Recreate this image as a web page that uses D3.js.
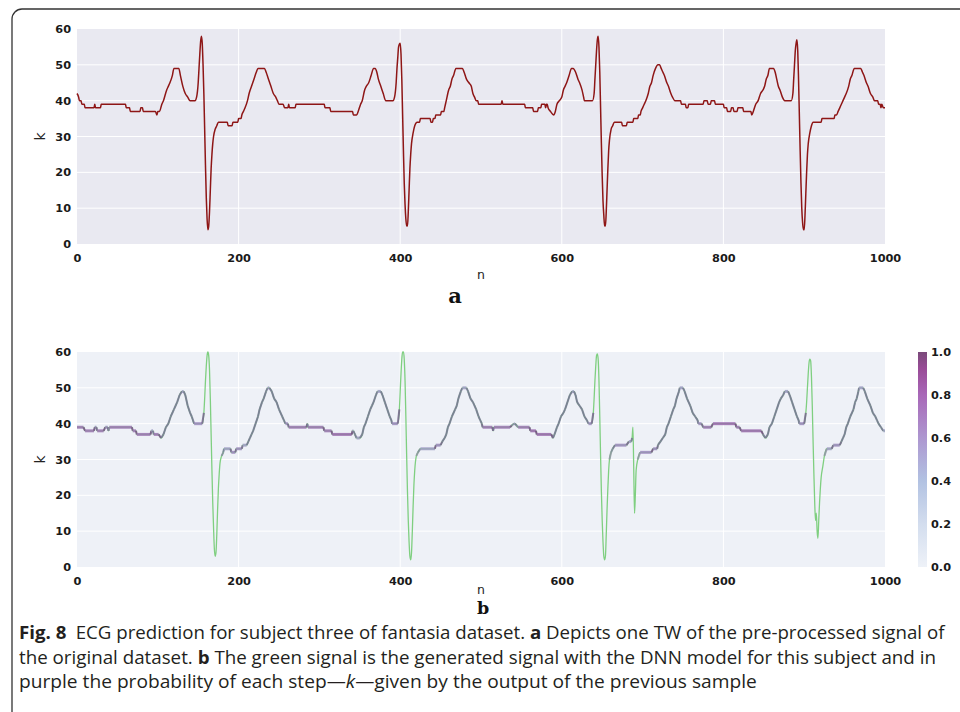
<!DOCTYPE html>
<html><head><meta charset="utf-8">
<script src="https://cdn.jsdelivr.net/npm/d3@7"></script>
<style>body{margin:0;background:#fff}svg{display:block}</style>
</head><body>
<svg id="c" width="960" height="712"></svg>
<script>
// ---------- data ----------
const xTicks = [0, 200, 400, 600, 800, 1000];
const yTicks = [0, 10, 20, 30, 40, 50, 60];
const cbTicks = [0.0, 0.2, 0.4, 0.6, 0.8, 1.0];
const panelLabels = ["a", "b"];
const axisLabelX = "n";
const axisLabelY = "k";

// panel a: original pre-processed signal [n, k]
const sigA = [[0,42],[2,41],[3,40],[5,40],[6,39],[9,39],[10,38],[21,38],[22,39],[23,38],[29,38],[30,39],[60,39],[61,38],[65,38],[66,37],[78,37],[79,38],[81,38],[82,37],[97,37],[99,36],[100,37],[102,37],[105,39],[107,40],[111,43],[113,44],[115,45],[118,47],[120,49],[126,49],[128,47],[131,44],[134,42],[137,41],[140,40],[146,40],
[148,41],[150,45],[151,49],[152,53],[153,56.5],[154,58],[155,56],[156,50],[157,42],[158,32],[159,22],[160,13],[161,7],[162,4],[163,5],[164,9],[165,15],[166,21],[167,25],[168,28],[169,30],[171,32],[173,33],[175,34],[186,34],[187,33],[192,33],[193,34],[199,34],[200,35],[203,35],[204,36],[206,37],[208,38],[211,40],[213,42],[216,44],[219,46],[222,48],[224,49],[232,49],[234,48],[237,46],[240,44],[243,42],[246,41],[248,40],[250,39],[255,39],[257,38],[261,38],[262,39],[263,38],[270,38],[271,39],[306,39],[307,38],[313,38],[314,37],[341,37],[342,36],[346,36],[348,37],[351,39],[353,40],[356,43],[358,44],[361,45],[364,47],[367,49],[369,49],[371,48],[373,46],[376,44],[379,42],[382,40],[391,40],
[393,41],[395,45],[396,49],[397,52],[398,55],[400,56],[401,53],[402,46],[403,36],[404,26],[405,17],[406,11],[407,7],[408,5],[409,5],[410,9],[411,15],[412,21],[413,25],[414,28],[416,31],[418,33],[421,34],[424,34],[425,35],[437,35],[438,34],[440,34],[441,35],[443,35],[444,36],[450,36],[451,37],[454,37],[455,38],[457,40],[460,43],[462,44],[464,46],[466,47],[469,49],[477,49],[479,48],[482,46],[485,45],[488,44],[490,42],[492,41],[494,40],[496,40],[497,39],[525,39],[526,40],[527,39],[554,39],[555,38],[564,38],[565,37],[570,37],[571,38],[574,38],[575,39],[579,39],[580,38],[581,39],[582,39],[583,38],[586,37],[590,36],[592,37],[594,39],[597,40],[600,41],[602,43],[604,44],[606,45],[609,47],[612,49],[614,49],[617,48],[620,46],[622,45],[625,43],[627,41],[628,40],[638,40],
[640,42],[641,46],[642,50],[643,54],[644,57],[645,58],[646,55],[647,48],[648,38],[649,28],[650,19],[651,12],[652,8],[653,5],[654,5],[655,9],[656,15],[657,21],[658,26],[659,29],[661,32],[663,33],[665,34],[674,34],[675,33],[680,33],[681,34],[688,34],[689,35],[694,35],[695,36],[697,36],[698,37],[700,38],[702,39],[704,40],[707,42],[709,44],[711,45],[713,47],[716,49],[719,50],[721,50],[723,49],[725,48],[727,47],[730,45],[732,44],[735,42],[737,41],[740,40],[747,40],[748,39],[753,39],[754,38],[756,38],[757,39],[775,39],[776,40],[780,40],[781,39],[784,39],[785,40],[789,40],[790,39],[800,39],[801,38],[804,38],[805,37],[809,37],[810,38],[812,38],[813,37],[817,37],[818,38],[824,38],[825,37],[834,37],[835,36],[837,37],[840,39],[843,40],[846,42],[849,43],[851,44],[853,46],[855,47],[857,49],[862,49],[864,48],[866,46],[868,44],[870,43],[873,41],[876,40],[884,40],
[886,42],[887,46],[888,50],[889,54],[890,56],[891,57],[892,54],[893,46],[894,36],[895,26],[896,17],[897,10],[898,6],[899,4],[900,4],[901,8],[902,14],[903,20],[904,25],[905,28],[907,31],[909,33],[911,34],[921,34],[922,35],[937,35],[938,36],[940,36],[942,37],[944,38],[946,39],[948,40],[950,41],[952,42],[955,44],[957,46],[959,47],[962,49],[970,49],[972,48],[974,47],[977,45],[979,44],[982,42],[985,41],[987,40],[991,40],[992,39],[994,39],[995,38],[996,39],[998,38],[1000,38]];

// panel b: generated signal [n, k, probability of the step]
const sigB = [[0,39,.7],[8,39,.7],[10,38,.7],[21,38,.7],[22,39,.6],[24,39,.6],[25,38,.7],[33,38,.7],[35,39,.6],[38,39,.6],[39,38,.3],[40,39,.7],[68,39,.7],[69,38,.7],[73,38,.7],[74,37,.7],[91,37,.7],[92,38,.5],[94,38,.5],[95,37,.7],[101,37,.7],[104,36,.5],[107,37,.5],[110,39,.5],[113,40,.5],[116,42,.5],[120,44,.5],[122,45,.5],[124,46,.5],[127,48,.5],[130,49,.5],[132,49,.5],[134,48,.5],[137,45,.5],[140,43,.5],[142,42,.5],[145,40,.6],[155,40,.6],
[157,43,.1],[158,47,.1],[159,52,.1],[160,56,.1],[161,59,.1],[162,60,.1],[163,59,.1],[164,55,.1],[165,47,.1],[166,37,.1],[167,27,.1],[168,18,.1],[169,11,.1],[170,5,.1],[171,3,.1],[172,4,.1],[173,9,.1],[174,16,.1],[175,22,.1],[176,26,.1],[177,29,.1],[179,31,.3],[181,32,.4],[182,33,.5],[190,33,.6],[191,32,.6],[196,32,.6],[197,33,.6],[204,33,.6],[205,34,.5],[210,34,.5],[212,35,.5],[214,36,.5],[216,37,.5],[218,38,.5],[221,40,.5],[224,42,.5],[226,44,.5],[229,46,.5],[231,47,.5],[234,49,.5],[236,50,.5],[238,50,.5],[241,49,.5],[244,47,.5],[247,46,.5],[250,44,.5],[254,42,.5],[256,41,.5],[258,40,.6],[261,40,.6],[262,39,.7],[284,39,.7],[285,40,.4],[286,39,.7],[305,39,.7],[306,38,.7],[315,38,.7],[316,37,.75],[340,37,.75],[341,38,.5],[342,38,.5],[344,37,.5],[346,36,.5],[350,36,.5],[353,37,.5],[355,39,.5],[357,40,.5],[360,42,.5],[363,44,.5],[365,45,.5],[367,46,.5],[370,48,.5],[372,49,.5],[376,49,.5],[378,48,.5],[381,46,.5],[384,44,.5],[387,42,.5],[389,41,.5],[390,40,.6],[397,40,.6],
[399,44,.1],[400,49,.1],[401,54,.1],[402,58,.1],[403,60,.1],[404,60,.1],[405,58,.1],[406,52,.1],[407,42,.1],[408,31,.1],[409,21,.1],[410,13,.1],[411,7,.1],[412,3,.1],[413,2,.1],[414,4,.1],[415,10,.1],[416,17,.1],[417,23,.1],[418,27,.1],[420,31,.2],[422,32,.3],[425,33,.5],[443,33,.7],[444,34,.6],[450,34,.6],[452,35,.5],[455,36,.5],[457,37,.5],[459,39,.5],[461,40,.5],[464,42,.5],[468,44,.5],[470,45,.5],[472,47,.5],[475,49,.5],[477,50,.5],[482,50,.5],[484,49,.5],[487,47,.5],[490,46,.5],[494,44,.5],[497,42,.5],[499,41,.5],[501,40,.6],[502,39,.7],[514,39,.7],[515,38,.5],[516,39,.7],[536,39,.7],[538,39.5,.3],[541,40,.5],[542,40,.5],[544,39.5,.3],[546,39,.7],[560,39,.7],[561,38,.75],[568,38,.75],[569,37,.75],[587,37,.75],[589,36,.5],[591,37,.5],[594,39,.5],[596,40,.5],[599,42,.5],[602,43,.5],[604,44,.5],[607,46,.5],[610,48,.5],[613,49,.5],[615,49,.5],[617,48,.5],[619,46,.5],[622,45,.5],[625,44,.5],[628,42,.5],[631,41,.5],[633,40,.6],[637,40,.6],
[639,43,.1],[640,47,.1],[641,52,.1],[642,56,.1],[643,59,.1],[644,59.5,.1],[645,58,.1],[646,52,.1],[647,42,.1],[648,31,.1],[649,21,.1],[650,13,.1],[651,7,.1],[652,3,.1],[653,2,.1],[654,3,.1],[655,9,.1],[656,16,.1],[657,22,.1],[658,27,.1],[659,30,.2],[661,32,.3],[663,33,.5],[666,34,.6],[680,34,.6],[683,35,.5],[686,35,.5],[687,36,.1],[688,39,.1],[689,28,.1],[690,15,.1],[691,20,.1],[692,27,.1],[694,30,.2],[697,32,.6],[711,32,.7],[713,33,.6],[718,33,.6],[719,34,.5],[722,35,.5],[725,36,.5],[728,37,.5],[730,39,.5],[732,40,.5],[735,42,.5],[738,44,.5],[740,45,.5],[742,47,.5],[745,49,.5],[746,50,.5],[750,50,.5],[752,49,.5],[755,47,.5],[759,45,.5],[762,43,.5],[765,42,.5],[768,41,.5],[769,40,.6],[773,40,.6],[775,39,.7],[785,39,.7],[787,40,.75],[815,40,.75],[816,39,.7],[820,39,.7],[822,38,.75],[847,38,.75],[849,37,.5],[852,36,.5],[855,37,.5],[857,39,.5],[860,40,.5],[863,42,.5],[866,44,.5],[869,46,.5],[871,47,.5],[874,48,.5],[876,49,.5],[880,49,.5],[882,48,.5],[885,46,.5],[888,44,.5],[891,42,.5],[893,41,.5],[894,40,.6],[900,40,.6],
[902,43,.1],[903,46,.1],[904,50,.1],[905,54,.1],[906,57,.1],[907,58,.1],[908,57.5,.1],[909,53,.1],[910,45,.1],[911,35,.1],[912,26,.1],[913,18,.1],[914,13,.1],[915,15,.1],[916,10,.1],[917,8,.1],[918,13,.1],[919,18,.1],[920,22,.1],[921,25,.1],[923,28,.1],[925,31,.2],[928,33,.5],[934,33,.6],[936,34,.6],[944,34,.6],[946,35,.5],[948,36,.5],[950,37,.5],[952,39,.5],[954,40,.5],[957,42,.5],[961,44,.5],[963,46,.5],[965,47,.5],[967,49,.5],[968,50,.5],[973,50,.5],[975,49,.5],[978,47,.5],[982,45,.5],[985,43,.5],[988,42,.5],[990,41,.5],[992,40,.5],[995,39,.5],[998,38,.5],[1000,38,.5]];

// colour scale stops of the probability colour bar
const probStops = [0, 0.2, 0.4, 0.6, 0.8, 0.92, 1];
const probColors = ["#eef2f8", "#d3ddee", "#b2c2e2", "#ad97d0", "#a868b8", "#9a4c98", "#7a4a7a"];

const captionLines = [
  [{t:"Fig. 8", w:"bold"}, {t:"\u2002ECG prediction for subject three of fantasia dataset. "}, {t:"a", w:"bold"}, {t:" Depicts one TW of the pre-processed signal of"}],
  [{t:"the original dataset. "}, {t:"b", w:"bold"}, {t:" The green signal is the generated signal with the DNN model for this subject and in"}],
  [{t:"purple the probability of each step\u2014"}, {t:"k", s:"italic"}, {t:"\u2014given by the output of the previous sample"}]
];

// ---------- layout ----------
const svg = d3.select("#c");
const X0 = 77, X1 = 885;
const panels = [
  {top: 29, bottom: 244, bg: "#e9e9f1", label: panelLabels[0], lblX: 455, lblY: 303, nY: 279, lblSize: 21},
  {top: 352, bottom: 567, bg: "#eef1f7", label: panelLabels[1], lblX: 483, lblY: 614, nY: 594, lblSize: 17.5}
];
const x = d3.scaleLinear().domain([0, 1000]).range([X0, X1]);
const tickFont = "'DejaVu Sans', sans-serif";

// outer frame
svg.append("path")
  .attr("d", "M12,740 L12,19 A10,10 0 0 1 22,9 L980,9")
  .attr("fill", "none").attr("stroke", "#333").attr("stroke-width", 1.3);

panels.forEach((p, i) => {
  const y = d3.scaleLinear().domain([0, 60]).range([p.bottom, p.top]);
  p.y = y;
  const g = svg.append("g");
  g.append("rect").attr("x", X0).attr("y", p.top).attr("width", X1 - X0).attr("height", p.bottom - p.top).attr("fill", p.bg);
  g.selectAll(".gx").data(xTicks.slice(1, -1)).join("line")
    .attr("x1", d => x(d)).attr("x2", d => x(d)).attr("y1", p.top).attr("y2", p.bottom)
    .attr("stroke", "#fff").attr("stroke-width", 1);
  g.selectAll(".gy").data(yTicks.slice(1, -1)).join("line")
    .attr("y1", d => y(d)).attr("y2", d => y(d)).attr("x1", X0).attr("x2", X1)
    .attr("stroke", "#fff").attr("stroke-width", 1);

  const ax = g.append("g").attr("transform", `translate(0,${p.bottom})`)
    .call(d3.axisBottom(x).tickValues(xTicks).tickSize(0).tickPadding(10).tickFormat(d3.format("d")));
  const ay = g.append("g").attr("transform", `translate(${X0},0)`)
    .call(d3.axisLeft(y).tickValues(yTicks).tickSize(0).tickPadding(6).tickFormat(d3.format("d")));
  [ax, ay].forEach(a => {
    a.select(".domain").remove();
    a.selectAll("text").attr("font-family", tickFont).attr("font-weight", "bold").attr("font-size", 11.3).attr("fill", "#1a1a1a");
  });

  g.append("text").attr("x", 481).attr("y", p.nY).attr("text-anchor", "middle")
    .attr("font-family", tickFont).attr("font-size", 12.5).attr("fill", "#222").text(axisLabelX);
  g.append("text").attr("transform", `translate(45,${(p.top + p.bottom) / 2}) rotate(-90)`)
    .attr("text-anchor", "middle").attr("font-family", tickFont).attr("font-size", 14).attr("fill", "#222").text(axisLabelY);
  g.append("text").attr("x", p.lblX).attr("y", p.lblY).attr("text-anchor", "middle")
    .attr("font-family", "'DejaVu Serif', serif").attr("font-weight", "bold").attr("font-size", p.lblSize).attr("fill", "#111").text(p.label);
});

// panel a line
const ya = panels[0].y;
svg.append("path").datum(sigA)
  .attr("d", d3.line().x(d => x(d[0])).y(d => ya(d[1])).curve(d3.curveMonotoneX))
  .attr("fill", "none").attr("stroke", "#8e1616").attr("stroke-width", 1.5);

// panel b: green generated signal + probability band
const yb = panels[1].y;
const pColor = d3.scaleLinear().domain(probStops).range(probColors);
svg.append("path").datum(sigB)
  .attr("d", d3.line().x(d => x(d[0])).y(d => yb(d[1])).curve(d3.curveMonotoneX))
  .attr("fill", "none").attr("stroke", "#7fcf80").attr("stroke-width", 1.3);
const segs = d3.pairs(sigB).filter(s => s[0][2] >= 0.2);
svg.append("g").selectAll("line").data(segs).join("line")
  .attr("x1", s => x(s[0][0])).attr("y1", s => yb(s[0][1]))
  .attr("x2", s => x(s[1][0])).attr("y2", s => yb(s[1][1]))
  .attr("stroke", s => d3.color(pColor(s[0][2])).darker(s[0][1] === s[1][1] ? 0.25 : 1.1))
  .attr("stroke-width", s => s[0][1] === s[1][1] ? 3 : 2)
  .attr("stroke-opacity", 0.85);

// colour bar
const cbY = d3.scaleLinear().domain([0, 1]).range([567, 352]);
const grad = svg.append("defs").append("linearGradient").attr("id", "cbg")
  .attr("x1", 0).attr("y1", 1).attr("x2", 0).attr("y2", 0);
grad.selectAll("stop").data(probStops).join("stop")
  .attr("offset", d => d).attr("stop-color", d => pColor(d));
svg.append("rect").attr("x", 918).attr("y", 352).attr("width", 9).attr("height", 215).attr("fill", "url(#cbg)");
const cbAx = svg.append("g").attr("transform", "translate(927,0)")
  .call(d3.axisRight(cbY).tickValues(cbTicks).tickSize(0).tickPadding(4).tickFormat(d3.format(".1f")));
cbAx.select(".domain").remove();
cbAx.selectAll("text").attr("font-family", tickFont).attr("font-weight", "bold").attr("font-size", 11.3).attr("fill", "#1a1a1a");

// caption
const capY = [639, 663.5, 688];
const capW = [926, 918, 738];
captionLines.forEach((line, i) => {
  const t = svg.append("text").attr("x", 0).attr("y", 0)
    .attr("font-family", "'Open Sans', sans-serif").attr("font-size", 17.5).attr("fill", "#231f20")
    .attr("xml:space", "preserve");
  line.forEach(part => {
    t.append("tspan").attr("font-weight", part.w || "normal").attr("font-style", part.s || "normal").text(part.t);
  });
  const w = t.node().getComputedTextLength();
  t.attr("transform", `translate(19,${capY[i]}) scale(${capW[i] / w},1)`);
});
</script>
</body></html>
